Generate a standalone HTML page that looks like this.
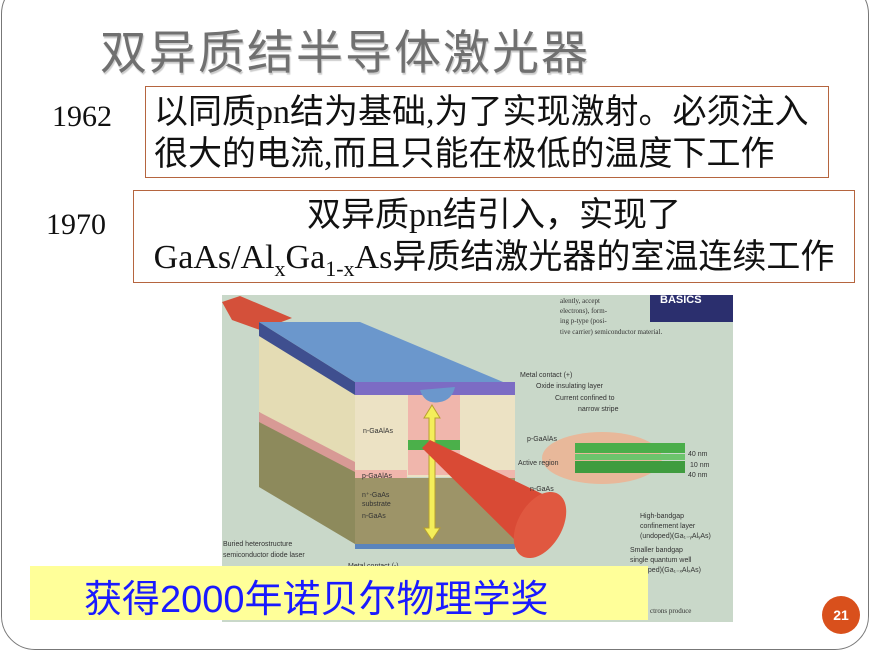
<!DOCTYPE html>
<html><head><meta charset="utf-8"><style>
body{margin:0;width:887px;height:660px;background:#fff;position:relative;overflow:hidden;font-family:"Liberation Sans","Noto Sans CJK SC",sans-serif}
.frame{position:absolute;left:1px;top:-20px;width:866px;height:668px;border:1.5px solid #777;border-radius:34px}
.t{position:absolute;left:100px;top:14px;font-size:47px;color:#707070;letter-spacing:2px;text-shadow:1px 2px 1px #ccc;font-family:"Liberation Sans","Noto Sans CJK SC",sans-serif}
.yr{position:absolute;font-family:"Liberation Serif",serif;font-size:30px;color:#111}
.box{position:absolute;border:1.5px solid #b5653f;background:#fff;font-family:"Liberation Serif","Noto Sans CJK SC",serif;font-size:34px;color:#111;line-height:42px;white-space:nowrap}
.yel{position:absolute;left:30px;top:566px;width:618px;height:54px;background:#ffff99}
.yel span{position:absolute;left:54px;top:2px;font-size:38px;color:#1a1aff}
.num{position:absolute;left:822px;top:596px;width:38px;height:38px;border-radius:50%;background:#d9501c;color:#fff;font-size:14px;font-weight:bold;text-align:center;line-height:38px}
</style></head><body>
<div class="frame"></div>
<div class="t">双异质结半导体激光器</div>
<div class="yr" style="left:52px;top:100px">1962</div>
<div class="yr" style="left:46px;top:208px">1970</div>
<div class="box" style="left:145px;top:86px;width:684px;height:92px;padding-left:8px;box-sizing:border-box;padding-top:5px">以同质pn结为基础,为了实现激射。必须注入<br>很大的电流,而且只能在极低的温度下工作</div>
<div class="box" style="left:133px;top:190px;width:722px;height:93px;box-sizing:border-box;text-align:center;padding-top:4px">双异质pn结引入，实现了<br>GaAs/Al<sub style="font-size:22px">x</sub>Ga<sub style="font-size:22px">1-x</sub>As异质结激光器的室温连续工作</div>
<svg style="position:absolute;left:0;top:0" width="887" height="660">
<rect x="222" y="295" width="511" height="327" fill="#c9d8c9"/>
<rect x="650" y="295" width="83" height="27" fill="#2b2f6e"/>
<text x="660" y="303" font-size="11" fill="#fff" font-weight="bold">BASICS</text>
<path d="M222 302 L240 296 L292 318 L260 330 L232 320Z" fill="#d4503a"/>
<polygon points="259,322 355,382 355,544 259,487" fill="#8d8a5c"/>
<polygon points="259,322 355,382 355,470 259,412" fill="#e4dcb4"/>
<polygon points="259,412 355,462 355,472 259,422" fill="#d89a95"/>
<polygon points="259,322 355,382 355,395 259,336" fill="#3f4f8f"/>
<polygon points="259,322 360,322 515,387 355,382" fill="#6b97cc"/>
<rect x="355" y="382" width="160" height="13" fill="#7c6cc4"/>
<rect x="355" y="395" width="160" height="82" fill="#ece2c4"/>
<rect x="408" y="395" width="52" height="80" fill="#f0b6ac"/>
<rect x="355" y="470" width="52" height="10" fill="#f0b6ac"/>
<rect x="460" y="470" width="55" height="10" fill="#f0b6ac"/>
<rect x="408" y="440" width="52" height="10" fill="#4bb04a"/>
<rect x="355" y="478" width="160" height="66" fill="#9d9468"/>
<rect x="355" y="544" width="160" height="5" fill="#5a84bc"/>
<path d="M420 390 Q425 405 440 402 Q452 400 455 387" fill="#6b97cc"/>
<polygon points="432,405 440,418 435,418 435,528 440,528 432,540 424,528 429,528 429,418 424,418" fill="#f4ee5a" stroke="#b8a030"/>
<polygon points="422,448 430,440 555,500 520,545" fill="#d94a35"/>
<ellipse cx="540" cy="525" rx="22" ry="36" transform="rotate(30 540 525)" fill="#e05840"/>
<ellipse cx="602" cy="458" rx="60" ry="26" fill="#e8b89a"/>
<rect x="575" y="443" width="110" height="10" fill="#4aae4a"/>
<rect x="575" y="454" width="110" height="6" fill="#6cc46c"/>
<rect x="575" y="461" width="110" height="12" fill="#3f9c3f"/>
<g font-size="7" fill="#333">
<text x="520" y="377">Metal contact (+)</text><text x="536" y="388">Oxide insulating layer</text>
<text x="555" y="400">Current confined to</text><text x="578" y="411">narrow stripe</text>
<text x="527" y="441">p-GaAlAs</text><text x="518" y="465">Active region</text>
<text x="530" y="491">n-GaAs</text><text x="688" y="456">40 nm</text><text x="690" y="467">10 nm</text><text x="688" y="477">40 nm</text>
<text x="640" y="518">High-bandgap</text><text x="640" y="528">confinement layer</text><text x="640" y="538">(undoped)(Ga₁₋ᵧAlᵧAs)</text>
<text x="630" y="552">Smaller bandgap</text><text x="630" y="562">single quantum well</text><text x="630" y="572">(undoped)(Ga₁₋ₓAlₓAs)</text>
<text x="363" y="433">n-GaAlAs</text><text x="362" y="478">p-GaAlAs</text><text x="362" y="497">n⁺-GaAs</text><text x="362" y="506">substrate</text><text x="362" y="518">n-GaAs</text>
<text x="223" y="546">Buried heterostructure</text><text x="223" y="557">semiconductor diode laser</text>
<text x="348" y="568">Metal contact (-)</text>
<text x="560" y="303" font-family="Liberation Serif">alently, accept</text><text x="560" y="313" font-family="Liberation Serif">electrons), form-</text><text x="560" y="323" font-family="Liberation Serif">ing p-type (posi-</text><text x="560" y="334" font-family="Liberation Serif">tive carrier) semiconductor material.</text>
<text x="650" y="613" font-family="Liberation Serif">ctrons produce</text>
</g>
</svg>
<div class="yel"><span>获得2000年诺贝尔物理学奖</span></div>
<div class="num">21</div>
</body></html>
